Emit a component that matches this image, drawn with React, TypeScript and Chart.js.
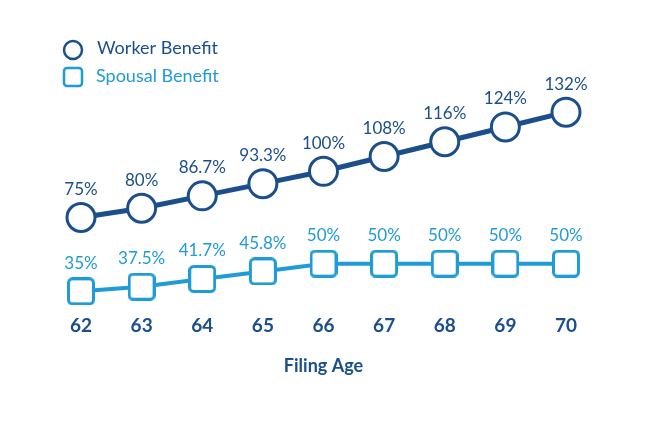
import React, { useEffect, useRef } from "react";
import { Chart, registerables } from "chart.js";

Chart.register(...registerables);

const filingAges = ["62", "63", "64", "65", "66", "67", "68", "69", "70"];
const workerBenefit = [75, 80, 86.7, 93.3, 100, 108, 116, 124, 132];
const spousalBenefit = [35, 37.5, 41.7, 45.8, 50, 50, 50, 50, 50];
const seriesNames = ["Worker Benefit", "Spousal Benefit"];
const axisTitle = "Filing Age";

const DARK = "#1b4f8c";
const LIGHT = "#1f9bd7";
const FONT = "Lato, 'Open Sans', sans-serif";

function roundedSquare(size: number, border: number, radius: number, color: string) {
  const c = document.createElement("canvas");
  c.width = size;
  c.height = size;
  const ctx = c.getContext("2d")!;
  const o = border / 2;
  const s = size - border;
  ctx.beginPath();
  ctx.roundRect(o, o, s, s, radius);
  ctx.fillStyle = "#ffffff";
  ctx.fill();
  ctx.lineWidth = border;
  ctx.strokeStyle = color;
  ctx.stroke();
  return c;
}

const legendPlugin = {
  id: "customLegend",
  afterDraw(chart: any) {
    const ctx = chart.ctx;
    ctx.save();
    ctx.beginPath();
    ctx.arc(73, 50, 9, 0, Math.PI * 2);
    ctx.fillStyle = "#fff";
    ctx.fill();
    ctx.lineWidth = 2.5;
    ctx.strokeStyle = DARK;
    ctx.stroke();
    ctx.beginPath();
    ctx.roundRect(64, 68, 18, 18, 3);
    ctx.fill();
    ctx.strokeStyle = LIGHT;
    ctx.stroke();
    ctx.font = `18px ${FONT}`;
    ctx.textAlign = "left";
    ctx.textBaseline = "middle";
    ctx.fillStyle = DARK;
    ctx.fillText(seriesNames[0], 97, 48);
    ctx.fillStyle = LIGHT;
    ctx.fillText(seriesNames[1], 96, 76);
    ctx.restore();
  },
};

const valueLabelPlugin = {
  id: "valueLabels",
  afterDatasetsDraw(chart: any) {
    const ctx = chart.ctx;
    ctx.save();
    ctx.font = `17px ${FONT}`;
    ctx.textAlign = "center";
    ctx.textBaseline = "middle";
    chart.data.datasets.forEach((ds: any, i: number) => {
      const meta = chart.getDatasetMeta(i);
      ctx.fillStyle = ds.borderColor;
      meta.data.forEach((pt: any, j: number) => {
        ctx.fillText(`${ds.data[j]}%`, pt.x, pt.y - 28);
      });
    });
    ctx.restore();
  },
};

export default function App() {
  const ref = useRef<HTMLCanvasElement>(null);
  useEffect(() => {
    const square = roundedSquare(28, 3, 4, LIGHT);
    const chart = new Chart(ref.current!, {
      type: "line",
      data: {
        labels: filingAges,
        datasets: [
          {
            label: seriesNames[0],
            data: workerBenefit,
            borderColor: DARK,
            borderWidth: 5,
            pointStyle: "circle",
            pointRadius: 14,
            pointBorderWidth: 3,
            pointBackgroundColor: "#ffffff",
            pointBorderColor: DARK,
            clip: false as any,
          },
          {
            label: seriesNames[1],
            data: spousalBenefit,
            borderColor: LIGHT,
            borderWidth: 4,
            pointStyle: square as any,
            pointRadius: 14,
            pointBackgroundColor: "#ffffff",
            pointBorderColor: LIGHT,
            clip: false as any,
          },
        ],
      },
      options: {
        responsive: false,
        animation: false,
        events: [],
        layout: { padding: { top: 97.4, left: 81, right: 84, bottom: 0 } },
        plugins: {
          legend: { display: false },
          tooltip: { enabled: false },
        },
        scales: {
          y: { display: false, min: 30, max: 140 },
          x: {
            offset: false,
            grid: { display: false, drawTicks: false },
            border: { display: false },
            ticks: {
              color: DARK,
              font: { family: FONT, size: 19, weight: "bold" },
              padding: 13.5,
              autoSkip: false,
              maxRotation: 0,
            },
            title: {
              display: true,
              text: axisTitle,
              color: DARK,
              font: { family: FONT, size: 18, weight: "bold" },
              padding: { top: 5, bottom: 45 },
            },
          },
        },
      },
      plugins: [legendPlugin, valueLabelPlugin],
    });
    return () => chart.destroy();
  }, []);
  return (
    <div style={{ position: "fixed", left: 0, top: 0, width: 650, height: 422, background: "#fff" }}>
      <canvas ref={ref} width={650} height={422} style={{ display: "block" }} />
    </div>
  );
}
